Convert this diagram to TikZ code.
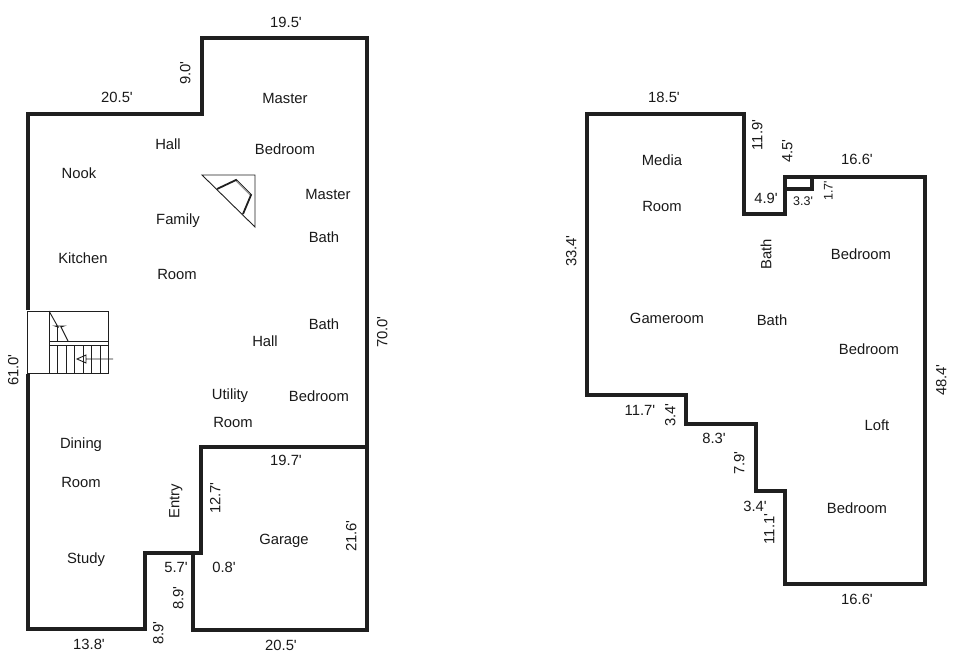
\documentclass[tikz,border=0pt]{standalone}
\usepackage{fontspec}
\setmainfont{Liberation Sans}[Ligatures=TeXOff]
\tikzset{wall/.style={line width=4pt, draw=black!88, line cap=butt, line join=miter},
thin wall/.style={line width=0.9pt, draw=black!88},
lbl/.style={font=\fontsize{14.8}{16}\selectfont, text=black!90, inner sep=0pt, text height=10.6pt, text depth=0pt},
lbl up/.style={lbl, rotate=90}}

\begin{document}
\begin{tikzpicture}[x=1pt,y=-1pt]
\useasboundingbox (0,0) rectangle (960,663);
% first floor
\draw [wall](28,310)--(28,114)--(202,114)--(202,38)--(367,38)--(367,630)--(193,630)--(193,553)--(145,553)--(145,629)--(28,629)--(28,374);
\draw [wall](193,553)--(201,553)--(201,447)--(367,447);

% second floor
\draw [wall](587,114)--(744,114)--(744,214)--(785,214)--(785,177)--(925,177)--(925,584)--(785,584)--(785,491)--(756,491)--(756,424)--(686,424)--(686,395)--(587,395)--cycle;
\draw [wall](785,189)--(812,189)--(812,177);

%stairs
\draw [thin wall](27,311)--(108,311)--(108,373)--(27,373)--cycle;
\draw [thin wall](49,311)--(49,373);
\draw [thin wall](49,341)--(108,341);
\draw [thin wall](49,345)--(108,345);
\foreach \x in {57,66,74,83,91,100}
     \draw [thin wall](\x,345)--(\x,373);
\draw [thin wall](57,326)--(57,341);
\draw [thin wall](49,311)--(58,327)--(55,326)--(64,326)--(61,327)--(68,341);
\draw [thin wall](113,359)--(86,359)--(86,355)--(77,359)--(86,363)--(86,359);

%fireplace
\draw [thin wall](202,175)--(255,175)--(255,227)--cycle;
\draw [line width=1.8pt, draw=black!88](217,189)--(236,180)--(251,195)--(243,214);
\draw [line width=0.7pt, draw=white](236.5,181)--(250,194.5);

%rooms
\node [lbl] (master) at (285,98) {Master};
\node [lbl] (masterbed) at (285,149) {Bedroom};
\node [lbl] (hallup) at (168,144) {Hall};
\node [lbl] (nook) at (79,173) {Nook};
\node [lbl] (family) at (178,219) {Family};
\node [lbl] (masterb) at (328,194) {Master};
\node [lbl] (masterbath) at (324,237) {Bath};
\node [lbl] (kitchen) at (83,258) {Kitchen};
\node [lbl] (familyroom) at (177,274) {Room};
\node [lbl] (bath) at (324,324) {Bath};
\node [lbl] (hall) at (265,341) {Hall};
\node [lbl] (utility) at (230,394) {Utility};
\node [lbl] (bedroom) at (319,396) {Bedroom};
\node [lbl] (utilityroom) at (233,422) {Room};
\node [lbl] (dining) at (81,443) {Dining};
\node [lbl] (diningroom) at (81,482) {Room};
\node [lbl up] (entry) at (174,501) {Entry};
\node [lbl] (garage) at (284,539) {Garage};
\node [lbl] (study) at (86,558) {Study};
\node [lbl] (media) at (662,160) {Media};
\node [lbl] (mediaroom) at (662,206) {Room};
\node [lbl up] (bathup) at (766,254) {Bath};
\node [lbl] (bedone) at (861,254) {Bedroom};
\node [lbl] (gameroom) at (667,318) {Gameroom};
\node [lbl] (bathtwo) at (772,320) {Bath};
\node [lbl] (bedtwo) at (869,349) {Bedroom};
\node [lbl] (loft) at (877,425) {Loft};
\node [lbl] (bedthree) at (857,508) {Bedroom};

%dimensions
\node [lbl] (dimtop) at (286,22) {19.5'};
\node [lbl up] (dimnine) at (185,73) {9.0'};
\node [lbl] (dimleft) at (117,97) {20.5'};
\node [lbl up] (dimsixty) at (13,370) {61.0'};
\node [lbl up] (dimseventy) at (382,332) {70.0'};
\node [lbl] (dimgarage) at (286,460) {19.7'};
\node [lbl up] (dimtwelve) at (215,498) {12.7'};
\node [lbl up] (dimtwentyone) at (351,536) {21.6'};
\node [lbl] (dimfive) at (176,567) {5.7'};
\node [lbl] (dimzero) at (224,567) {0.8'};
\node [lbl up] (dimeight) at (178,598) {8.9'};
\node [lbl up] (dimeighttwo) at (158,633) {8.9'};
\node [lbl] (dimthirteen) at (89,644) {13.8'};
\node [lbl] (dimbottom) at (281,645) {20.5'};
\node [lbl] (dimmedia) at (664,97) {18.5'};
\node [lbl up] (dimeleven) at (757,135) {11.9'};
\node [lbl up] (dimfour) at (787,151) {4.5'};
\node [lbl] (dimsixteen) at (857,159) {16.6'};
\node [lbl] (dimfournine) at (766,198) {4.9'};
\node [lbl, font=\fontsize{12.5}{14}\selectfont, text height=9pt] (dimthree) at (803,201) {3.3'};
\node [lbl up, font=\fontsize{12.5}{14}\selectfont, text height=9pt] (dimone) at (828,191) {1.7'};
\node [lbl up] (dimthirty) at (571,251) {33.4'};
\node [lbl up] (dimfortyeight) at (941,380) {48.4'};
\node [lbl] (dimelevenb) at (640,410) {11.7'};
\node [lbl up] (dimthreefour) at (670,415) {3.4'};
\node [lbl] (dimeightthree) at (714,438) {8.3'};
\node [lbl up] (dimseven) at (739,463) {7.9'};
\node [lbl] (dimthreeb) at (755,506) {3.4'};
\node [lbl up] (dimelevenc) at (769,529) {11.1'};
\node [lbl] (dimsixteenb) at (857,599) {16.6'};

\end{tikzpicture}
\end{document}
